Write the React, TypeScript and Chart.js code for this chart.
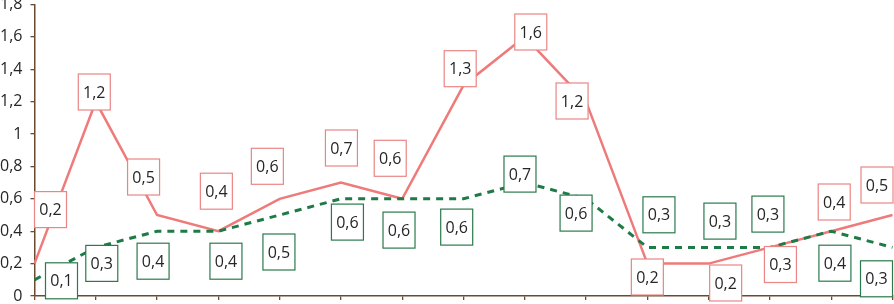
import React, { useEffect, useRef } from "react";
import { Chart, registerables } from "chart.js";

Chart.register(...registerables);

const categories = ["1", "2", "3", "4", "5", "6", "7", "8", "9", "10", "11", "12", "13", "14", "15"];
const redValues = [0.2, 1.2, 0.5, 0.4, 0.6, 0.7, 0.6, 1.3, 1.6, 1.2, 0.2, 0.2, 0.3, 0.4, 0.5];
const greenValues = [0.1, 0.3, 0.4, 0.4, 0.5, 0.6, 0.6, 0.6, 0.7, 0.6, 0.3, 0.3, 0.3, 0.4, 0.3];
const yTickValues = [0, 0.2, 0.4, 0.6, 0.8, 1, 1.2, 1.4, 1.6, 1.8];
const yTickLabels = ["0", "0,2", "0,4", "0,6", "0,8", "1", "1,2", "1,4", "1,6", "1,8"];

// label box offsets (px) relative to each point, as placed in the original
const redLabelOffsets: [number, number][] = [
  [16, -54], [-1.5, -9.6], [-13.5, -38], [-2, -40], [-12.3, -32.5], [0.5, -34.6], [-12, -40.5],
  [-3.3, -16.7], [6, -4.8], [-14, -0.6], [0, 13.4], [17, 19.4], [10.5, 17.1], [3, -29.2], [-15.5, -30],
];
const greenLabelOffsets: [number, number][] = [
  [27, 1], [6, 16], [-4, 30], [7.6, 30], [-0.7, 37], [6.5, 23.3], [-3.2, 31.3], [-6.8, 28.3],
  [-4.8, -8.5], [-10, 14.3], [11.6, -32.6], [11.3, -26.3], [-2, -33.3], [3.7, 32], [-16, 31.4],
];

const RED = "#EF7A7A";
const RED_BOX = "#E98585";
const GREEN = "#1E7A46";
const GREEN_BOX = "#2A7A4C";
const AXIS = "#6B4A30";
const FONT = "'Open Sans', 'Liberation Sans', sans-serif";

const fmt = (v: number) => String(v).replace(".", ",");

const labelPlugin = {
  id: "boxLabels",
  afterDatasetsDraw(chart: any) {
    const ctx = chart.ctx;
    const specs = [
      { idx: 1, offsets: redLabelOffsets, color: RED_BOX },
      { idx: 0, offsets: greenLabelOffsets, color: GREEN_BOX },
    ];
    ctx.save();
    ctx.font = `16px ${FONT}`;
    ctx.textAlign = "center";
    ctx.textBaseline = "middle";
    for (const s of specs) {
      const meta = chart.getDatasetMeta(s.idx);
      const data = chart.data.datasets[s.idx].data as number[];
      meta.data.forEach((pt: any, i: number) => {
        const [dx, dy] = s.offsets[i];
        const cx = pt.x + dx;
        const cy = pt.y + dy;
        const w = 32;
        const h = 36;
        ctx.fillStyle = "#ffffff";
        ctx.fillRect(cx - w / 2, cy - h / 2, w, h);
        ctx.strokeStyle = s.color;
        ctx.lineWidth = 1.2;
        ctx.strokeRect(cx - w / 2, cy - h / 2, w, h);
        ctx.fillStyle = "#262626";
        ctx.fillText(fmt(data[i]), cx, cy + 1);
      });
    }
    ctx.restore();
  },
};

export default function App() {
  const ref = useRef<HTMLCanvasElement>(null);
  useEffect(() => {
    if (!ref.current) return;
    const chart = new Chart(ref.current, {
      type: "line",
      data: {
        labels: categories,
        datasets: [
          {
            label: "B",
            data: greenValues,
            borderColor: GREEN,
            borderWidth: 3,
            borderDash: [7, 6],
            pointRadius: 0,
            tension: 0,
            fill: false,
          },
          {
            label: "A",
            data: redValues,
            borderColor: RED,
            borderWidth: 2.5,
            pointRadius: 0,
            tension: 0,
            fill: false,
          },
        ],
      },
      options: {
        animation: false,
        responsive: true,
        maintainAspectRatio: false,
        layout: { padding: { top: 20.4, left: 0, right: 1.5, bottom: 14 } },
        plugins: { legend: { display: false }, tooltip: { enabled: false } },
        scales: {
          x: {
            offset: false,
            grid: { display: true, drawOnChartArea: false, drawTicks: true, tickLength: 4, color: AXIS, lineWidth: 1.3 },
            border: { display: true, color: AXIS, width: 1.5 },
            ticks: { display: false },
          },
          y: {
            min: 0,
            max: 1.8,
            afterBuildTicks: (scale: any) => {
              scale.ticks = yTickValues.map((v) => ({ value: v }));
            },
            afterFit: (scale: any) => {
              scale.width = 34.5;
            },
            grid: { display: true, drawOnChartArea: false, drawTicks: true, tickLength: 4, color: AXIS, lineWidth: 1.3 },
            border: { display: true, color: AXIS, width: 1.5 },
            ticks: {
              padding: 8,
              color: "#262626",
              font: { family: FONT, size: 16 },
              callback: (v: any) => {
                const i = yTickValues.findIndex((t) => Math.abs(t - Number(v)) < 1e-6);
                return i >= 0 ? yTickLabels[i] : "";
              },
            },
          },
        },
      },
      plugins: [labelPlugin],
    });
    return () => chart.destroy();
  }, []);
  return (
    <div style={{ position: "fixed", left: 0, top: 0, width: 894, height: 304, overflow: "hidden", background: "#fff" }}>
      <div style={{ position: "absolute", left: 0, top: -16, width: 894, height: 330 }}>
        <canvas ref={ref} />
      </div>
    </div>
  );
}
